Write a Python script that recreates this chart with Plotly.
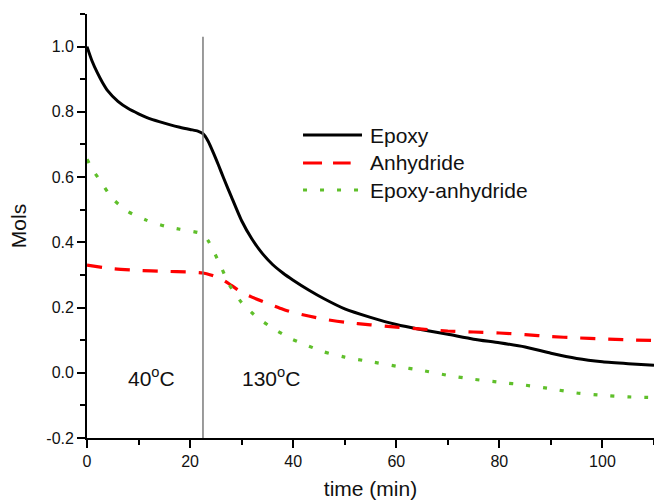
import plotly.graph_objects as go

# ---------------- data ----------------
epoxy_t = [0, 1, 2, 3, 4, 6, 8, 10, 12, 14, 16, 18, 20, 21.5, 22.5, 23.5, 24.5, 25.5, 26.5, 28, 30, 32, 34,
           36, 38, 40, 43, 46, 50, 55, 60, 65, 70, 75, 80, 85, 90, 95, 100, 105, 110]
epoxy_v = [1.0, 0.955, 0.92, 0.89, 0.865, 0.832, 0.81, 0.794, 0.78, 0.77, 0.761, 0.753, 0.746, 0.741, 0.733,
           0.71, 0.675, 0.637, 0.597, 0.54, 0.466, 0.41, 0.366, 0.332, 0.306, 0.284, 0.254, 0.227, 0.196,
           0.17, 0.148, 0.132, 0.118, 0.103, 0.092, 0.079, 0.06, 0.044, 0.034, 0.028, 0.023]

anh_t = [0, 5, 10, 15, 20, 22.5, 24, 26, 28, 30, 32, 35, 38, 40, 43, 46, 50, 55, 60, 65, 70, 75, 80, 85,
         90, 95, 100, 105, 110]
anh_v = [0.33, 0.319, 0.314, 0.311, 0.309, 0.306, 0.3, 0.288, 0.268, 0.247, 0.232, 0.213, 0.195, 0.185,
         0.174, 0.164, 0.155, 0.147, 0.14, 0.134, 0.128, 0.125, 0.122, 0.117, 0.111, 0.107, 0.104, 0.101, 0.099]

ea_t = [0, 1, 2.5, 5, 8, 11.5, 15, 18, 21.5, 22.5, 23.5, 24.5, 26, 27.5, 30, 33, 36, 39.5, 43, 46, 50, 55,
        60, 65, 70, 75, 80, 85, 90, 95, 100, 105, 110]
ea_v = [0.655, 0.625, 0.59, 0.533, 0.494, 0.468, 0.45, 0.44, 0.43, 0.425, 0.405, 0.375, 0.325, 0.273, 0.215,
        0.17, 0.137, 0.105, 0.082, 0.064, 0.048, 0.034, 0.02, 0.007, -0.008, -0.02, -0.029, -0.038, -0.049,
        -0.062, -0.069, -0.074, -0.076]

series_names = ["Epoxy", "Anhydride", "Epoxy-anhydride"]
switch_time = 22.5
switch_top = 1.03
region_labels = ["40<sup>o</sup>C", "130<sup>o</sup>C"]
region_label_x = [12.6, 35.6]
region_label_y = [-0.013, -0.013]

x_ticks = [0, 20, 40, 60, 80, 100]
y_ticks = [-0.2, 0.0, 0.2, 0.4, 0.6, 0.8, 1.0]

FONT = "Liberation Sans, Arial, sans-serif"

fig = go.Figure()
styles = [
    dict(color="black", width=3, dash="solid"),
    dict(color="#ff0000", width=3.2, dash="15px,13px"),
    dict(color="#5fbf2a", width=3.2, dash="4px,13px"),
]
for name, t, v, st in zip(series_names, [epoxy_t, anh_t, ea_t], [epoxy_v, anh_v, ea_v], styles):
    fig.add_trace(go.Scatter(x=t, y=v, mode="lines", name=name, line=dict(shape="spline", smoothing=0.6, **st),
                             showlegend=False))

# switch line
fig.add_shape(type="line", xref="x", yref="y", x0=switch_time, x1=switch_time, y0=-0.2, y1=switch_top,
              line=dict(color="#7a7a7a", width=1.5))

# manual legend
leg_x0, leg_x1, leg_tx = 0.381, 0.485, 0.4956
leg_y = [0.7146, 0.6486, 0.5849]
leg_x1s = [0.485, 0.465, 0.485]
leg_dash = ["solid", "19px,11px", "4px,13px"]
for i, (name, st) in enumerate(zip(series_names, styles)):
    fig.add_shape(type="line", xref="paper", yref="paper", x0=leg_x0, x1=leg_x1s[i], y0=leg_y[i], y1=leg_y[i],
                  line=dict(color=st["color"], width=st["width"], dash=leg_dash[i]))
    fig.add_annotation(xref="paper", yref="paper", x=leg_tx, y=leg_y[i], text=name, showarrow=False,
                       xanchor="left", yanchor="middle", font=dict(family=FONT, size=21, color="#111"))

for txt, x, y in zip(region_labels, region_label_x, region_label_y):
    fig.add_annotation(xref="x", yref="y", x=x, y=y, text=txt, showarrow=False, xanchor="center",
                       yanchor="middle", font=dict(family=FONT, size=21, color="#111"))

fig.update_layout(
    width=654, height=503,
    margin=dict(l=87, r=0, t=14, b=65),
    plot_bgcolor="white", paper_bgcolor="white",
    font=dict(family=FONT, color="#111"),
    showlegend=False,
)
fig.update_xaxes(
    range=[0, 110], tickvals=x_ticks, ticktext=[str(v) for v in x_ticks],
    showgrid=False, zeroline=False, showline=True, linecolor="black", linewidth=1.8,
    ticks="outside", ticklen=8, tickwidth=1.5, tickcolor="black",
    minor=dict(dtick=10, tick0=0, ticks="outside", ticklen=5, tickwidth=1.5, tickcolor="black", showgrid=False),
    tickfont=dict(family=FONT, size=16, color="#111"),
    title=dict(text="time (min)", font=dict(family=FONT, size=21, color="#111"), standoff=12),
)
fig.update_yaxes(
    range=[-0.2, 1.1], tickvals=y_ticks, ticktext=[f"{v:.1f}" for v in y_ticks],
    showgrid=False, zeroline=False, showline=True, linecolor="black", linewidth=1.8,
    ticks="outside", ticklen=8, tickwidth=1.5, tickcolor="black",
    minor=dict(dtick=0.1, tick0=-0.2, ticks="outside", ticklen=5, tickwidth=1.5, tickcolor="black", showgrid=False),
    tickfont=dict(family=FONT, size=16, color="#111"),
    title=dict(text="Mols", font=dict(family=FONT, size=21, color="#111"), standoff=14),
)

fig.write_html("out.html")
